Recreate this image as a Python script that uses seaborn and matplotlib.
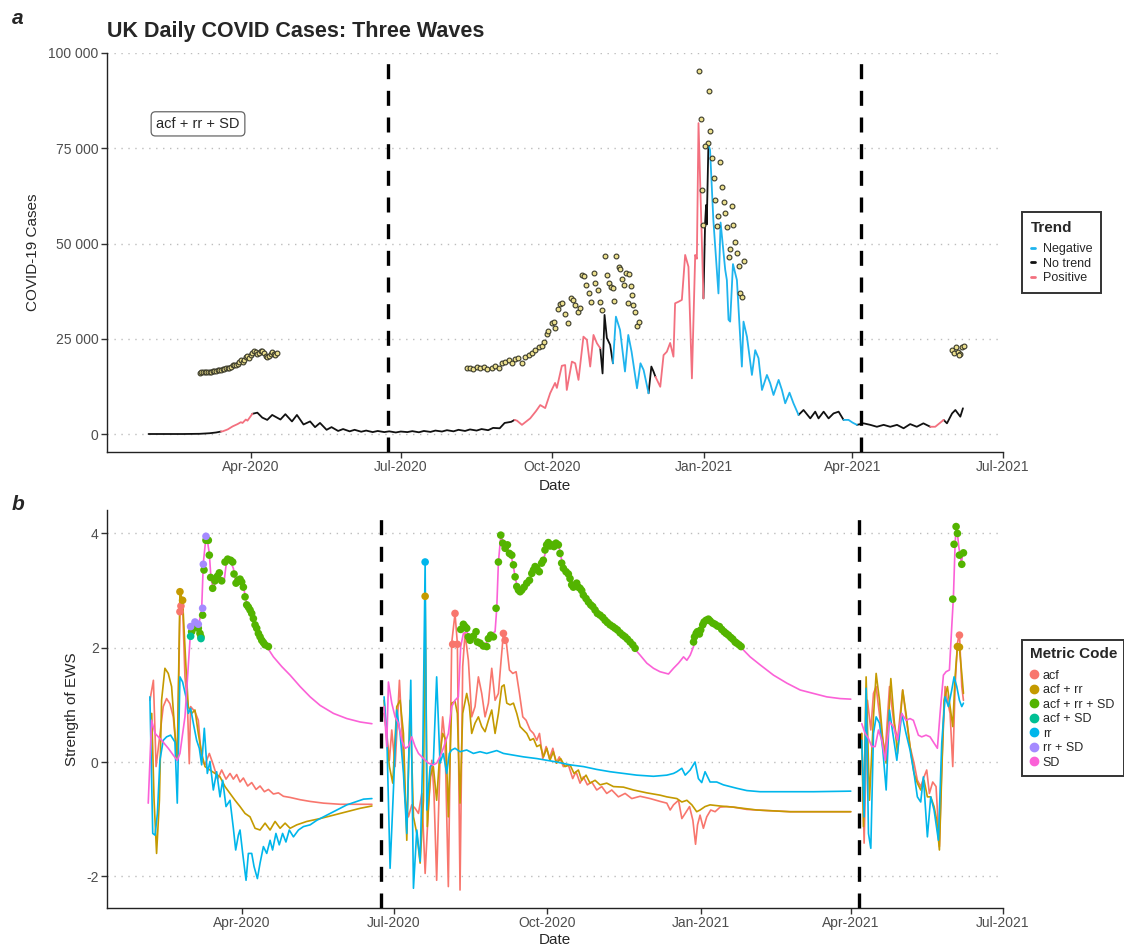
import numpy as np
import pandas as pd
import matplotlib
matplotlib.use("Agg")
import matplotlib.pyplot as plt
import matplotlib.dates as mdates
from matplotlib.ticker import FuncFormatter
from matplotlib.lines import Line2D
import seaborn as sns

sns.set_theme(style="white")
plt.rcParams["font.family"] = ["Liberation Sans", "DejaVu Sans"]
plt.rcParams["axes.unicode_minus"] = False

# ---------------- DATA (day = days since 2020-01-01) ----------------
# Panel a: UK daily cases
case_day = [29, 40, 50, 60, 66, 70, 73, 74, 77, 80, 83, 85, 86, 88, 89, 92,
            95, 98, 101, 104, 109, 112, 116, 119, 123, 127, 130, 133, 137, 140, 144, 147,
            151, 154, 158, 161, 165, 168, 172, 175, 179, 182, 186, 189, 193, 196, 200, 203,
            207, 210, 214, 217, 221, 224, 228, 231, 235, 238, 242, 245, 249, 251,
            252.5, 255.5, 260.5, 264, 266.6, 269.6, 272.6, 275.6, 276.7, 279.7, 281.7, 282.7,
            285.8, 287.8, 289.8, 292.8, 294.9, 296.9, 298.9, 301, 303,
            304.4, 305.6, 307, 309, 310.7,
            312.5, 315, 318, 320, 322, 325.3, 327.4, 329.3, 332.3,
            334, 335.3, 336.5,
            338.4, 339.4, 341.4, 343.4, 345.4, 347.4, 348.4, 350.4, 352.5, 354.5, 356.5,
            358.6, 360.6, 361.6, 362.6, 365.6,
            366.6, 367.2, 367.6, 368.6,
            369.6, 371.6, 374.7, 376, 378.8, 379.8, 380.8, 381.8, 383.5, 385.9, 388.9, 389.9,
            392, 395, 397, 399, 401.1, 404.1, 406.1, 408.1, 411.2, 413.2, 415.2, 417.8,
            420.2, 423.3,
            426.3, 430.4, 433.4, 435.4, 438.5, 441.5, 444.5, 447.6, 450.6,
            453.6, 456, 458.7,
            462.7, 466.8, 470.8, 474.9, 478.9, 483, 487, 491, 495, 499, 503.2,
            506.2, 511.3,
            513.3, 516.4, 518.4, 521.4, 523]
case_val = [0, 0, 0, 50, 200, 400, 650, 700, 1200, 2000, 2600, 3100, 2900, 3800, 3500, 5300,
            5600, 4300, 3700, 5000, 3800, 5200, 3300, 5000, 2500, 3300, 1800, 2900, 1100, 1800, 800, 1300,
            700, 1100, 600, 900, 500, 800, 500, 700, 400, 650, 500, 750, 450, 800, 550, 900,
            650, 1000, 700, 1100, 800, 1200, 900, 1300, 1000, 1600, 1500, 2900, 3200, 3700,
            3500, 2400, 4100, 6000, 7600, 6800, 10700, 13400, 12100, 17900, 18100, 11550,
            19000, 18560, 14200, 25550, 24700, 17700, 26000, 23800, 22500,
            15900, 31250, 25200, 23400, 18560,
            30800, 27300, 16400, 26000, 21600, 12000, 18560, 16800, 10700,
            17700, 16400, 15000,
            13300, 12400, 20700, 21600, 23900, 20300, 34300, 34700, 35200, 47000, 43900,
            14600, 47000, 46000, 81600, 35600,
            55300, 60100, 55000, 75900,
            74600, 56200, 36900, 55500, 43100, 40400, 30000, 29500, 44600, 40400, 17700, 29500,
            25500, 15500, 22000, 19900, 11550, 15500, 13300, 10240, 14200, 11550, 8060, 10850,
            8060, 5000,
            6300, 4100, 5860, 4100, 5860, 4100, 5400, 5860, 3700,
            3700, 3000, 2400,
            2800, 2400, 1900, 2400, 1900, 2400, 1500, 2600, 1900, 2800, 1900,
            1900, 3700,
            2800, 5400, 6300, 4550, 6750]
trend_start = [0, 74, 95, 252.5, 304.4, 312.5, 334, 338.4, 366.6, 369.6, 426.3, 453.6, 462.7, 506.2, 513.3]
trend_label = ["No trend", "Positive", "No trend", "Positive", "No trend", "Negative", "No trend",
               "Positive", "No trend", "Negative", "No trend", "Negative", "No trend", "Positive", "No trend"]

# Panel a: warning points (acf + rr + SD)
warn_day = [60, 61, 62, 63, 64, 65, 66, 67, 68, 69, 70, 71, 72, 73, 74, 75, 76, 77, 78, 79, 80, 81, 82, 83,
            84, 85, 86, 87, 88, 89, 90, 91, 92, 93, 94, 95, 96, 97, 98, 99, 100, 101, 102, 103, 104, 105, 106, 107,
            222.1, 224.1, 226.1, 228.2, 230.2, 232.2, 234.2, 237.3, 239.3, 241.3, 243.3, 245.4, 247.4, 249.4,
            251.4, 253.4, 255.5, 257.5, 259.5, 261.5, 263.6, 265.6, 267.6, 268.6, 270.6, 271.6, 273.7, 275.1,
            275.7, 277.1, 278.3, 279.7, 281.8, 283.4, 285.2, 286.4, 287.8, 289.3, 290.5, 291.9, 292.9, 294.5,
            295.9, 297.3, 299.0, 300.0, 301.4, 303.0, 304.0, 305.6, 307.1, 308.1, 309.5, 310.7, 311.1, 312.7,
            314.1, 315.1, 316.2, 317.2, 318.6, 319.6, 320.6, 321.6, 322.4, 323.0, 323.9, 325.3, 326.5,
            362.6, 368.7, 364.0, 369.7, 368.1, 366.7, 364.6, 365.6, 370.7, 375.8, 371.7, 376.8, 372.7, 377.8,
            382.8, 378.8, 374.7, 373.7, 379.8, 383.8, 384.9, 381.8, 385.9, 380.8, 389.9, 386.9, 387.9, 388.9,
            516.4, 517.4, 519.0, 520.0, 521.4, 522.5, 523.5, 520.4]
warn_val = [16100, 16150, 16200, 16250, 16300, 16300, 16350, 16400, 16450, 16500, 16600, 16700, 16800, 16900,
            17000, 17100, 17300, 17400, 17300, 17700, 18000, 18200, 18000, 18500, 18900, 19300, 18800, 19500,
            20100, 20500, 19900, 20700, 21200, 21700, 21600, 21000, 21300, 21900, 21800, 21300, 20600, 20100,
            20500, 21100, 21400, 21000, 20700, 21200,
            17245, 17420, 16980, 17680, 17250, 17680, 16980, 17420, 17860, 17420, 18560, 19000, 19430, 18560,
            19610, 19870, 18730, 20310, 20750, 21180, 22060, 22930, 23110, 24250, 26260, 27140, 29060, 29500,
            27750, 32740, 34050, 34490, 31510, 29240, 35630, 35190, 33880, 32130, 33000, 41750, 41490, 39130,
            36940, 34750, 42190, 39740, 37815, 34750, 32560, 46830, 41750, 39740, 38690, 38250, 35010, 46740,
            43770, 43240, 40620, 39130, 42370, 34310, 42020, 38870, 36500, 33790, 32130, 28360, 29500,
            95320, 89900, 82720, 79570, 76330, 75460, 64070, 54880, 72390, 71510, 67140, 64770, 61450, 61010,
            59870, 58120, 57330, 54710, 54450, 54800, 50510, 48500, 47440, 46390, 45520, 44120, 37120, 35890,
            22060, 21180, 22760, 21620, 21010, 22930, 23110, 20750]

# Panel b: strength of early-warning signals (lines)
acf_day = [36, 38.1, 39.7, 41.6, 44, 46, 48, 50, 52.4, 54, 55.6, 57, 58.4, 59.6, 60.4, 63, 65, 67, 69, 71.6,
           74, 76.6, 79, 81.6, 84, 86, 88, 90, 92, 94.6, 97, 99.6, 102, 104.6, 107, 110, 113, 116, 120, 126,
           132, 140, 150, 160, 169,
           176.3, 177.9, 179.5, 180.9, 182.9, 185.5, 186.9, 188.9, 190.9, 192.9, 194.9, 196.9, 198.9, 200.9,
           202.9, 204.9, 206.2, 207.8, 209.8, 211.4, 212.8, 214.8, 216.8, 218.8, 220.2, 221.8, 223.4, 224.8,
           226.8, 228.8, 230.8, 232.8, 234.8, 236.8, 238.8, 240.8, 242.8, 244.8, 246.4, 247.8, 249.4, 251.4,
           253.4, 255.4, 257.4, 259.4, 261.4, 263.8, 265.8, 267.8, 269.4, 271.4, 273.4, 275.4, 277.4, 279.4,
           281.3, 283.7, 286.7, 289.3, 291.3, 293.7, 295.7, 298.1, 300.7, 303.7, 306.7, 309.7, 312.7, 316.7,
           320.7, 324.7, 329.7, 335.7, 341.7, 345.7, 347.7, 349.7, 352.7, 354.7, 356.7, 359.3, 361.3, 362.9,
           364.1, 365.6, 367.6, 369.6, 372.0, 374.6, 377.6, 381.6, 385.6, 393.6, 405.6, 419.6, 439.5, 455.9,
           462.5, 463.9, 465.9, 467.9, 469.5, 471.1, 472.5, 474.5, 476.5, 479.1, 481.5, 483.9, 487.0, 489.0,
           491.4, 493.8, 495.8, 497.8, 499.8, 501.4, 503.0, 505.0, 507.0, 509.0, 510.4, 512.4, 513.8, 515.4,
           517.0, 518.4, 519.8, 521.0, 522.4, 523.4]
acf_val = [1.08, 1.43, -0.08, 0.38, 0.97, 1.11, 1.02, 0.79, 0.03, 2.63, 2.73, 1.49, 1.08, -0.03, 0.97, 0.88,
           0.73, 0.03, -0.05, 0.15, -0.05, -0.30, -0.14, -0.30, -0.20, -0.30, -0.22, -0.35, -0.28, -0.42, -0.36,
           -0.48, -0.42, -0.52, -0.48, -0.56, -0.54, -0.60, -0.62, -0.66, -0.69, -0.72, -0.74, -0.74, -0.74,
           0.85, 0.50, 0.03, 0.56, -0.08, 1.43, 0.62, -0.67, -0.96, -0.75, -0.81, -0.90, -0.55, -1.95,
           -0.78, 0.03, -0.55, -2.07, 0.03, 0.79, 0.38, -2.18, 2.08, 2.60, 2.08, -2.24, 1.67, 2.25,
           1.78, 0.79, 0.97, 1.49, 1.20, 0.79, 1.03, 1.64, 1.08, 1.20, 1.78, 2.25, 2.13, 1.61,
           1.55, 1.58, 1.20, 0.79, 0.73, 0.56, 0.50, 0.38, 0.50, 0.06, 0.27, 0.06, 0.24, -0.02,
           0.09, -0.08, -0.05, -0.29, -0.17, -0.37, -0.26, -0.40, -0.35, -0.49, -0.43, -0.55, -0.49, -0.61,
           -0.55, -0.64, -0.60, -0.64, -0.69, -0.72, -0.84, -0.75, -0.67, -0.99, -0.90, -0.78, -1.02, -1.44,
           -1.10, -0.93, -1.16, -0.96, -0.84, -0.87, -0.79, -0.78, -0.79, -0.83, -0.85, -0.87, -0.87, -0.87,
           0.50, -1.42, 1.08, 0.56, 1.20, 1.32, 0.97, 0.50, 0.15, 1.32, 0.73, 0.38, 1.26, 0.79,
           0.27, -0.02, -0.32, -0.43, -0.26, -0.14, -0.55, -0.35, -0.43, -1.48, -0.08, 1.32, 1.08, 0.85,
           -0.08, 1.32, 2.08, 2.25, 1.32, 1.08]

acfrr_day = [37.1, 38.5, 40, 41.7, 43, 45, 47, 49, 51, 52.4, 54, 55.6, 57.6, 59, 61, 63, 65, 67, 69, 72, 75,
             78, 81, 84, 87, 90, 93, 96, 99, 102, 105, 108, 111, 114, 117, 120, 124, 130, 138, 146, 154, 162, 169,
             176.3, 177.9, 179.5, 181.5, 183.9, 185.9, 187.9, 189.9, 191.9, 193.9, 195.9, 197.9, 199.9, 200.9,
             202.2, 203.9, 205.8, 207.8, 209.4, 211.4, 213.4, 214.8, 216.8, 218.8, 220.2, 221.8, 223.4, 225.8,
             227.4, 228.8, 230.8, 232.8, 234.8, 236.8, 238.8, 240.8, 242.8, 244.8, 246.8, 248.2, 249.8, 251.8,
             253.8, 255.8, 257.8, 259.8, 261.8, 263.8, 265.8, 267.8, 269.8, 271.8, 273.8, 275.7, 277.7, 279.7,
             282.1, 284.7, 287.7, 290.1, 292.7, 294.7, 297.3, 299.7, 302.7, 305.7, 309.7, 313.7, 319.7, 325.7,
             333.7, 341.6, 345.7, 351.7, 354.7, 357.7, 360.7, 363.6, 365.6, 368.6, 371.6, 377.6, 385.6, 399.6,
             419.6, 455.9,
             462.5, 463.5, 465.1, 467.1, 469.5, 471.1, 473.1, 475.1, 477.1, 479.9, 481.9, 483.9, 487.0, 489.0,
             491.4, 493.8, 495.8, 497.8, 499.8, 501.8, 503.8, 505.8, 507.4, 509.0, 510.4, 511.8, 513.8, 515.4,
             517.0, 518.4, 519.8, 521.0, 522.4, 523.4]
acfrr_val = [0.85, -0.67, -1.60, -0.67, 1.08, 1.64, 1.55, 1.32, 0.50, 0.03, 2.98, 2.83, 1.67, 0.97, 0.85, 0.91,
             0.50, 0.15, -0.08, -0.14, -0.20, -0.26, -0.43, -0.55, -0.67, -0.78, -0.90, -0.96, -1.16, -1.19,
             -1.07, -1.19, -1.04, -1.16, -1.07, -1.16, -1.10, -1.04, -0.99, -0.93, -0.87, -0.81, -0.77,
             1.08, 0.38, -0.08, -0.37, 0.97, 1.08, 0.50, -1.37, 1.08, -0.96, -1.25, -1.77, -0.67, 2.90,
             -1.13, -0.26, -0.08, -0.67, 0.03, 0.50, 0.38, -0.96, 1.03, 1.06, 0.85, -0.72, 0.85, 1.20,
             0.97, 0.50, 0.68, 0.79, 0.62, 0.53, 0.73, 0.91, 0.50, 0.85, 1.32, 1.35, 1.03, 1.00,
             1.03, 0.85, 0.62, 0.56, 0.50, 0.38, 0.41, 0.27, 0.30, 0.09, 0.24, 0.03, 0.18, -0.02,
             0.06, -0.08, -0.05, -0.20, -0.14, -0.32, -0.23, -0.37, -0.32, -0.40, -0.37, -0.43, -0.44, -0.49,
             -0.54, -0.58, -0.61, -0.64, -0.70, -0.67, -0.75, -0.87, -0.84, -0.78, -0.75, -0.77, -0.79, -0.84,
             -0.87, -0.87,
             0.50, -1.13, 1.49, -0.67, 0.79, 1.55, 1.08, 0.38, -0.02, 1.46, 0.73, 0.15, 1.26, 0.85,
             0.27, -0.20, -0.37, -0.49, -0.32, -0.61, -0.61, -0.78, -1.02, -1.54, -0.20, 1.08, 1.32, 0.97,
             0.62, 1.49, 2.02, 1.99, 1.55, 1.20]

rr_day = [36, 37.7, 39.1, 40.5, 42, 44, 46, 48.4, 51, 52.4, 54, 55.6, 57.6, 59, 60.4, 62.4, 64, 65.6, 67,
          68.6, 70.4, 72, 74, 76, 78, 79.6, 81.6, 84, 86, 87.4, 89, 90, 91.6, 93.6, 95, 97, 98.4, 100.4, 102,
          104, 106, 108, 109.5, 111.5, 113.5, 115.5, 117.5, 119.5, 122, 125, 128, 132, 136, 142, 148, 154, 160,
          164, 169,
          176.3, 177.9, 179.9, 181.9, 183.9, 185.9, 187.9, 189.9, 192.3, 193.9, 195.9, 197.9, 199.5, 200.9,
          201.9, 203.9, 205.8, 207.8, 209.8, 211.8, 213.8, 215.4, 216.8, 218.8, 221.8, 225.8, 229.8, 233.8,
          237.8, 243.8, 247.8, 253.8, 259.8, 267.8, 273.8, 279.7, 287.7, 295.7, 303.7, 311.7, 319.7, 327.7,
          337.7, 345.7, 349.7, 351.7, 354.7, 356.7, 359.7, 362.6, 364.6, 366.6, 368.6, 371.6, 375.6, 379.6,
          383.6, 387.6, 393.6, 401.6, 413.6, 433.5, 455.9,
          462.5, 463.9, 465.1, 466.5, 467.9, 469.5, 471.1, 473.1, 475.1, 477.1, 479.1, 481.1, 483.5, 486.4,
          489.0, 491.4, 493.8, 495.8, 497.8, 499.4, 501.8, 503.8, 505.8, 508.4, 510.4, 512.4, 514.4, 516.4,
          517.8, 519.4, 521.0, 522.4, 523.4]
rr_val = [1.14, -1.25, -1.28, -0.90, 0.03, 0.38, 0.44, 0.47, 0.35, -0.72, 1.49, 1.40, 1.14, 0.85, 0.94, 0.62,
          0.38, 0.24, -0.05, 0.59, -0.20, 0.01, -0.49, -0.17, -0.61, -0.32, -0.78, -0.67, -1.16, -1.54, -1.28,
          -1.19, -1.60, -2.07, -1.60, -1.60, -1.83, -2.04, -1.77, -1.48, -1.60, -1.37, -1.54, -1.25, -1.45,
          -1.25, -1.40, -1.19, -1.31, -1.19, -1.13, -1.10, -1.02, -0.93, -0.84, -0.75, -0.69, -0.65, -0.64,
          1.14, 0.50, -1.86, -0.49, 0.91, 0.50, -0.20, -1.25, 1.43, -2.21, -1.19, -1.74, 0.21, 3.50,
          -0.84, -0.08, -0.02, 1.49, -0.02, 0.15, -0.20, 0.15, 0.21, 0.24, 0.18, 0.21, 0.15, 0.18,
          0.15, 0.20, 0.15, 0.12, 0.09, 0.06, 0.03, 0.00, -0.05, -0.08, -0.13, -0.17, -0.20, -0.23,
          -0.25, -0.23, -0.20, -0.17, -0.11, -0.23, -0.14, 0.00, -0.29, -0.36, -0.17, -0.35, -0.35, -0.40,
          -0.43, -0.46, -0.50, -0.52, -0.52, -0.52, -0.51,
          0.38, -0.96, 1.29, -1.25, -1.51, 0.50, 0.79, 0.68, 0.21, -0.49, 0.91, 0.50, 0.03, 0.85,
          0.50, 0.21, -0.20, -0.61, -0.70, -0.26, -1.31, -0.61, -0.84, -1.37, 0.33, 1.14, 0.97, 1.26,
          1.49, 1.32, 1.08, 0.97, 1.03]

sd_day = [35, 37, 39.1, 43, 47, 50, 52.4, 54, 57, 60, 62, 65, 67, 68, 69.6, 70.4, 71.6, 72.6, 74, 76, 77.6,
          79, 80.4, 82, 84.4, 86, 87.6, 90, 92, 94, 96, 98, 100, 102, 104, 106, 110, 115, 120, 126, 132, 138,
          146, 154, 162, 169,
          176.3, 177.9, 178.9, 180.9, 182.9, 184.9, 186.9, 188.9, 190.9, 192.9, 194.9, 196.9, 199.9, 202.9,
          205.8, 207.8, 209.8, 211.8, 214.8, 216.8, 218.8, 220.8, 222.2, 223.8, 225.8, 227.8, 229.8, 231.8,
          234.8, 236.8, 238.8, 240.8, 242.8, 243.8, 244.8, 246.2, 247.4, 248.8, 250.2, 251.4, 252.8, 253.8,
          254.8, 255.8, 256.8, 257.8, 259.8, 261.8, 263.8, 265.8, 267.8, 269.8, 271.8, 273.3, 274.7, 276.7,
          278.7, 280.7, 282.1, 283.7, 285.7, 287.7, 289.7, 291.7, 293.7, 295.7, 297.7, 299.7, 301.7, 303.7,
          305.7, 307.7, 309.7, 311.7, 314.7, 317.7, 320.7, 323.7, 326.7, 329.7, 333.7, 337.7, 341.6, 346.7,
          349.7, 352.7, 355.7, 357.7, 359.7, 361.7, 362.7, 364.7, 366.7, 368.7, 370.7, 372.6, 375.6, 378.6,
          381.6, 385.6, 389.6, 395.6, 401.6, 409.6, 417.6, 425.6, 433.5, 441.5, 449.5, 455.9,
          462.5, 464.5, 466.5, 468.5, 470.5, 472.5, 474.5, 476.5, 479.1, 481.5, 483.9, 486.4, 489.0, 491.4,
          493.4, 496.4, 498.4, 501.0, 503.4, 505.8, 507.8, 509.4, 511.4, 513.0, 515.0, 516.4, 517.4, 518.4,
          519.0, 519.8, 520.6, 521.4, 522.2, 523.0]
sd_val = [-0.72, 0.73, 0.50, 0.38, 0.24, 0.12, 0.03, 0.15, 0.79, 2.13, 2.40, 2.37, 2.66, 3.48, 3.94, 3.88,
          3.65, 3.21, 3.04, 3.21, 3.30, 3.20, 3.15, 3.53, 3.50, 3.39, 3.13, 3.18, 3.07, 2.78, 2.66, 2.48, 2.34,
          2.22, 2.11, 2.02, 1.84, 1.67, 1.52, 1.32, 1.14, 0.99, 0.85, 0.76, 0.70, 0.67,
          0.97, 0.27, 1.40, 1.03, 0.79, 0.68, 0.38, 0.24, 0.27, 0.44, 0.27, 0.15, 0.06, -0.02,
          -0.05, -0.02, 0.09, 0.24, 0.50, 0.97, 1.08, 1.14, 2.02, 2.25, 2.28, 2.16, 2.13, 2.08,
          1.99, 2.02, 2.19, 2.25, 2.28, 2.69, 3.50, 3.95, 3.88, 3.80, 3.77, 3.65, 3.56, 3.42,
          3.24, 3.10, 3.01, 2.98, 3.04, 3.13, 3.21, 3.36, 3.42, 3.45, 3.53, 3.71, 3.83, 3.80,
          3.77, 3.83, 3.62, 3.39, 3.33, 3.24, 3.10, 3.04, 3.10, 2.95, 2.86, 2.78, 2.72, 2.63,
          2.57, 2.48, 2.45, 2.40, 2.34, 2.25, 2.16, 2.08, 1.97, 1.87, 1.73, 1.64, 1.58, 1.54,
          1.64, 1.73, 1.84, 1.78, 1.87, 2.02, 2.19, 2.28, 2.37, 2.45, 2.50, 2.45, 2.40, 2.34,
          2.25, 2.13, 2.02, 1.84, 1.70, 1.52, 1.38, 1.26, 1.20, 1.14, 1.11, 1.10,
          0.67, 0.50, 0.41, 0.27, 0.27, 0.56, 0.38, 0.03, 0.70, 0.62, 0.38, 0.85, 0.73, 0.76,
          0.73, 0.47, 0.44, 0.47, 0.44, 0.33, 0.24, 0.85, 1.52, 1.58, 1.61, 2.37, 2.89, 3.80,
          4.12, 4.00, 3.77, 3.62, 3.48, 3.65]

# Panel b: threshold-crossing points
green_day = [61.0, 62.0, 63.0, 64.0, 65.0, 66.0, 66.6, 67.6, 68.4, 69.6, 71.0, 71.6, 72.4, 73.6, 75.0, 76.4,
             77.6, 79.0, 81.0, 82.6, 84.4, 85.6, 86.4, 87.6, 88.8, 90.0, 91.0, 92.0, 93.0, 94.0, 95.0, 96.0,
             97.0, 98.0, 99.0, 100.0, 101.0, 102.0, 103.0, 104.0, 105.0, 107.0,
             222.2, 223.8, 224.8, 225.8, 226.8, 227.8, 229.8, 231.4, 232.2, 233.8, 235.8, 237.8, 238.8, 240.2,
             241.8, 243.4, 244.8, 246.2, 247.4, 248.8, 250.2, 251.4, 252.8, 253.8, 254.8, 255.8, 256.8, 257.8,
             258.8, 260.2, 261.8, 263.4, 264.8, 265.8, 266.8, 267.8, 269.3, 270.7, 271.7, 272.7, 273.7, 274.7,
             275.7, 276.7, 278.1, 279.3, 280.7, 281.7, 282.7, 283.7, 285.3, 286.7, 287.7, 288.7, 289.7, 290.7,
             291.7, 292.7, 293.7, 294.7, 295.7, 297.3, 298.7, 300.1, 301.3, 302.7, 304.1, 305.7, 307.3, 308.7,
             310.1, 311.7, 313.3, 314.7, 316.1, 317.7, 319.3, 320.7, 322.1, 323.7, 325.3, 326.7,
             361.7, 362.3, 363.3, 364.0, 365.2, 366.0, 367.2, 368.0, 369.2, 370.6, 371.6, 373.2, 374.6, 376.0,
             377.2, 378.6, 380.0, 381.2, 382.6, 384.0, 385.2, 386.6, 387.6, 389.0, 390.2,
             517.0, 517.8, 519.0, 519.8, 521.0, 522.4, 523.4]
green_val = [2.28, 2.34, 2.37, 2.38, 2.34, 2.25, 2.19, 2.57, 3.36, 3.88, 3.88, 3.62, 3.23, 3.04, 3.17, 3.25,
             3.31, 3.17, 3.50, 3.55, 3.53, 3.50, 3.29, 3.13, 3.18, 3.20, 3.15, 3.06, 2.89, 2.75, 2.71, 2.66,
             2.60, 2.51, 2.40, 2.34, 2.25, 2.19, 2.13, 2.09, 2.05, 2.02,
             2.32, 2.41, 2.37, 2.34, 2.19, 2.13, 2.20, 2.28, 2.10, 2.08, 2.03, 2.02, 2.16, 2.22,
             2.19, 2.69, 3.50, 3.97, 3.83, 3.74, 3.80, 3.65, 3.62, 3.45, 3.24, 3.07, 3.01, 2.98,
             3.01, 3.06, 3.13, 3.18, 3.30, 3.36, 3.42, 3.39, 3.33, 3.48, 3.53, 3.71, 3.80, 3.84,
             3.78, 3.80, 3.77, 3.83, 3.80, 3.65, 3.48, 3.39, 3.33, 3.29, 3.21, 3.10, 3.06, 3.08,
             3.13, 3.06, 3.04, 3.00, 2.92, 2.86, 2.80, 2.75, 2.72, 2.66, 2.60, 2.57, 2.53, 2.48,
             2.44, 2.40, 2.37, 2.34, 2.31, 2.26, 2.22, 2.19, 2.15, 2.10, 2.05, 1.99,
             2.10, 2.19, 2.25, 2.28, 2.24, 2.31, 2.40, 2.45, 2.48, 2.50, 2.47, 2.43, 2.41, 2.38,
             2.37, 2.32, 2.28, 2.25, 2.22, 2.18, 2.15, 2.10, 2.08, 2.05, 2.02,
             2.85, 3.81, 4.12, 4.00, 3.62, 3.46, 3.66]
other_day = [60.4, 63.0, 65.0, 67.6, 68.0, 69.6, 60.4, 66.6,
             54.0, 54.6, 217.4, 218.8, 220.2, 247.8, 248.8, 521.0,
             54.0, 55.6, 200.9, 519.8, 521.0, 200.9]
other_val = [2.37, 2.45, 2.41, 2.69, 3.46, 3.95, 2.20, 2.16,
             2.63, 2.73, 2.06, 2.60, 2.06, 2.25, 2.13, 2.22,
             2.98, 2.83, 2.90, 2.02, 2.01, 3.50]
other_code = ["rr + SD"] * 6 + ["acf + SD"] * 2 + ["acf"] * 8 + ["acf + rr"] * 5 + ["rr"]

wave_breaks = [174.4, 461.0]   # dashed lines separating the three waves

trend_pal = {"Negative": "#1FB4EE", "No trend": "#111111", "Positive": "#F3707F"}
metric_levels = ["acf", "acf + rr", "acf + rr + SD", "acf + SD", "rr", "rr + SD", "SD"]
metric_pal = dict(zip(metric_levels, ["#F8766D", "#C49A00", "#53B400", "#00C094", "#00B6EB", "#A58AFF", "#FB61D7"]))

BASE = pd.Timestamp("2020-01-01")


def to_date(days):
    return BASE + pd.to_timedelta(np.asarray(days, dtype=float), unit="D")


# ---------------- build frames ----------------
cd = np.asarray(case_day, float)
seg_idx = np.searchsorted(np.asarray(trend_start, float), cd, side="right") - 1
trend = [trend_label[i] for i in seg_idx]
rows = []
run = 0
for i in range(len(cd)):
    if i > 0 and trend[i] != trend[i - 1]:
        run += 1
        rows.append((cd[i - 1], case_val[i - 1], trend[i], run))
    rows.append((cd[i], case_val[i], trend[i], run))
dfa = pd.DataFrame(rows, columns=["day", "cases", "trend", "run"])
dfa["date"] = to_date(dfa["day"])
dfw = pd.DataFrame({"date": to_date(warn_day), "cases": warn_val})

frames = []
for name, dd, vv in [("acf", acf_day, acf_val), ("acf + rr", acfrr_day, acfrr_val),
                     ("rr", rr_day, rr_val), ("SD", sd_day, sd_val)]:
    f = pd.DataFrame({"day": dd, "value": vv})
    f["metric"] = name
    frames.append(f)
dfb = pd.concat(frames, ignore_index=True)
dfb["wave"] = np.digitize(dfb["day"], wave_breaks)
dfb["date"] = to_date(dfb["day"])
dfg = pd.DataFrame({"date": to_date(green_day), "value": green_val, "code": "acf + rr + SD"})
dfo = pd.DataFrame({"date": to_date(other_day), "value": other_val, "code": other_code})

# ---------------- figure ----------------
W, H = 1124, 947
fig = plt.figure(figsize=(W / 100, H / 100), dpi=100)
ax1 = fig.add_axes([107 / W, 1 - 452 / H, 896 / W, 399 / H])
ax2 = fig.add_axes([107 / W, 1 - 908 / H, 896 / W, 398 / H])

grid_kw = dict(color="#BDBDBD", lw=1.0, ls=(0, (1, 4)))
for ax in (ax1, ax2):
    for s in ("top", "right"):
        ax.spines[s].set_visible(False)
    for s in ("left", "bottom"):
        ax.spines[s].set_color("#222222")
        ax.spines[s].set_linewidth(1.0)
    ax.tick_params(axis="both", which="major", bottom=True, left=True, length=4, width=1,
                   color="#333333", labelsize=10, labelcolor="#4D4D4D", pad=2)
    ax.xaxis.set_major_locator(mdates.MonthLocator(bymonth=[1, 4, 7, 10]))
    ax.xaxis.set_major_formatter(mdates.DateFormatter("%b-%Y"))
    ax.set_axisbelow(True)
    ax.yaxis.grid(True, **grid_kw)
    ax.xaxis.grid(False)

# ----- panel a -----
sns.lineplot(data=dfa, x="date", y="cases", hue="trend", units="run", estimator=None,
             palette=trend_pal, lw=1.3, sort=False, legend=False, ax=ax1)
sns.scatterplot(data=dfw, x="date", y="cases", color="#EDE08E", edgecolor="#3A3A2A",
                linewidth=0.8, s=12, legend=False, ax=ax1, zorder=4)
for b in wave_breaks:
    ax1.axvline(to_date([b])[0], color="black", lw=2.4, ls=(0, (4.5, 3.5)), zorder=5)
ax1.set_xlim(to_date([3.8])[0], to_date([547.3])[0])
ax1.set_ylim(-4724, 100000)
ax1.set_yticks([0, 25000, 50000, 75000, 100000])
ax1.yaxis.set_major_formatter(FuncFormatter(lambda v, p: f"{int(v):,}".replace(",", " ")))
ax1.set_xlabel("Date", fontsize=11)
ax1.set_ylabel("COVID-19 Cases", fontsize=11)
ax1.yaxis.set_label_coords((40 - 107) / 896, 0.5)
ax1.xaxis.set_label_coords(0.5, (452 - 479) / 399)
ax1.text(to_date([59])[0], 81400, "acf + rr + SD", fontsize=10.5, ha="center", va="center",
         bbox=dict(boxstyle="round,pad=0.35,rounding_size=0.3", fc="white", ec="#666666", lw=0.9))

# ----- panel b -----
sns.lineplot(data=dfb, x="date", y="value", hue="metric", units="wave", estimator=None,
             palette=metric_pal, lw=1.2, sort=False, legend=False, ax=ax2)
sns.scatterplot(data=dfg, x="date", y="value", hue="code", palette=metric_pal, s=30,
                edgecolor="none", legend=False, ax=ax2, zorder=4)
sns.scatterplot(data=dfo, x="date", y="value", hue="code", palette=metric_pal, s=30,
                edgecolor="none", legend=False, ax=ax2, zorder=5)
for b in wave_breaks:
    ax2.axvline(to_date([b])[0], color="black", lw=2.4, ls=(0, (4.5, 3.5)), zorder=6)
ax2.set_xlim(to_date([10.3])[0], to_date([547.1])[0])
ax2.set_ylim(-2.555, 4.41)
ax2.set_yticks([-2, 0, 2, 4])
ax2.yaxis.set_major_formatter(FuncFormatter(lambda v, p: f"{int(v)}"))
ax2.set_xlabel("Date", fontsize=11)
ax2.set_ylabel("Strength of EWS", fontsize=11)
ax2.yaxis.set_label_coords((79 - 107) / 896, 0.5)
ax2.xaxis.set_label_coords(0.5, (908 - 933) / 398)

# ----- titles / panel tags -----
fig.text(107 / W, 1 - 32 / H, "UK Daily COVID Cases: Three Waves", fontsize=15.5,
         fontweight="bold", ha="left", va="center")
fig.text(12 / W, 1 - 18 / H, "a", fontsize=15, fontweight="bold", fontstyle="italic", ha="left", va="center")
fig.text(12 / W, 1 - 505 / H, "b", fontsize=15, fontweight="bold", fontstyle="italic", ha="left", va="center")

# ----- legends -----
h1 = [Line2D([], [], color=trend_pal[k], lw=2) for k in ["Negative", "No trend", "Positive"]]
leg1 = fig.legend(h1, ["Negative", "No trend", "Positive"], title="Trend", loc="upper left",
                  bbox_to_anchor=(1022 / W, 1 - 212 / H), borderaxespad=0, frameon=True, fancybox=False,
                  fontsize=9, title_fontsize=11, handlelength=0.35, handletextpad=0.6,
                  labelspacing=0.2, borderpad=0.7)
leg1.get_title().set_fontweight("bold")
leg1._legend_box.align = "left"
leg1._legend_box.sep = 6
leg1.get_frame().set_edgecolor("black")
leg1.get_frame().set_linewidth(1.4)

h2 = [Line2D([], [], color=metric_pal[k], marker="o", ls="", markersize=6) for k in metric_levels]
leg2 = fig.legend(h2, metric_levels, title="Metric Code", loc="upper left",
                  bbox_to_anchor=(1022 / W, 1 - 640 / H), borderaxespad=0, frameon=True, fancybox=False,
                  fontsize=9, title_fontsize=11, handlelength=0.7, handletextpad=0.35,
                  labelspacing=0.2, borderpad=0.6)
leg2.get_title().set_fontweight("bold")
leg2._legend_box.align = "left"
leg2._legend_box.sep = 6
leg2.get_frame().set_edgecolor("black")
leg2.get_frame().set_linewidth(1.4)

fig.savefig("out.png", dpi=100)
